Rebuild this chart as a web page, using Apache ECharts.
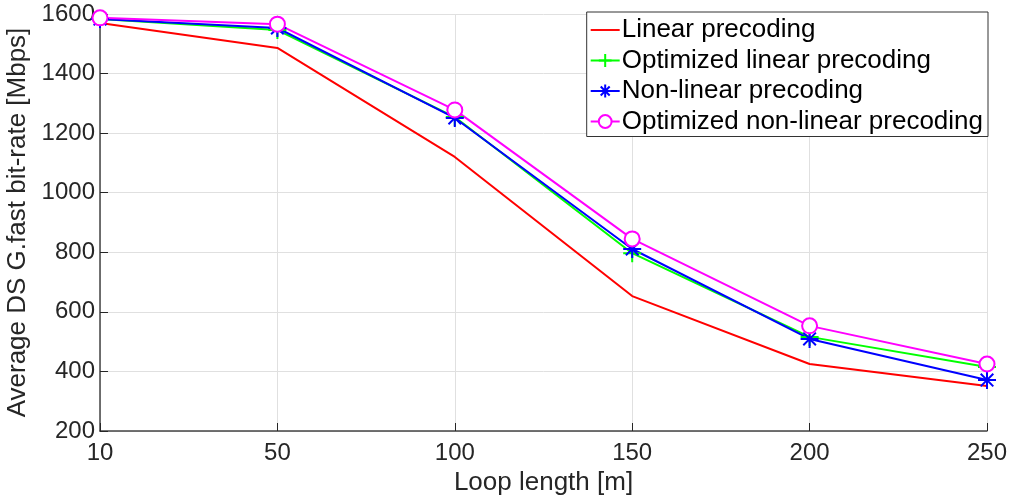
<!DOCTYPE html>
<html>
<head>
<meta charset="utf-8">
<script src="https://cdn.jsdelivr.net/npm/echarts@6/dist/echarts.min.js"></script>
<style>html,body{margin:0;padding:0;background:#fff}#c{width:1010px;height:497px}</style>
</head>
<body>
<div id="c"></div>
<script>
const categories = ['10', '50', '100', '150', '200', '250'];
const linearPrecoding = [1570, 1486, 1120, 653, 425, 351];
const optimizedLinear = [1583, 1546, 1254, 797, 516, 415];
const nonLinear = [1583, 1553, 1251, 811, 509, 371];
const optimizedNonLinear = [1587, 1566, 1278, 845, 553, 425];
const yTicks = [200, 400, 600, 800, 1000, 1200, 1400, 1600];
const seriesNames = ['Linear precoding', 'Optimized linear precoding', 'Non-linear precoding', 'Optimized non-linear precoding'];

const font = 'Liberation Sans, Arial, sans-serif';
const chart = echarts.init(document.getElementById('c'), null, {renderer: 'canvas'});
const plus = 'path://M0,-10L0,10M-10,0L10,0';
const star = 'path://M0,-10L0,10M-10,0L10,0M-7,-7L7,7M-7,7L7,-7';
function mk(name, data, color, symbol, size) {
  const s = {
    name: name, type: 'line', data: data,
    lineStyle: {color: color, width: 2},
    itemStyle: {color: color, borderColor: color, borderWidth: 2},
    symbol: symbol || 'none', symbolSize: size || 0, showSymbol: !!symbol,
    animation: false
  };
  if (symbol && symbol !== 'emptyCircle') s.itemStyle.color = 'none';
  return s;
}
chart.setOption({
  backgroundColor: '#fff',
  animation: false,
  grid: {left: 100, right: 23, top: 14, bottom: 66, containLabel: false, outerBoundsMode: 'none'},
  legend: {
    orient: 'vertical', right: 22, top: 12,
    data: [
      {name: seriesNames[0], icon: 'path://M0,9L30,9L30,11L0,11Z', itemStyle: {color: '#ff0000', borderWidth: 0}},
      {name: seriesNames[1]},
      {name: seriesNames[2]},
      {name: seriesNames[3]}
    ],
    backgroundColor: '#fff', borderColor: '#333', borderWidth: 1, borderRadius: 0,
    padding: [5, 5, 2, 3], itemGap: 4.5, itemWidth: 29, itemHeight: 16,
    textStyle: {fontFamily: font, fontSize: 26, lineHeight: 26, color: '#000', padding: [0, 0, 0, -3]}
  },
  xAxis: {
    type: 'category', data: categories, boundaryGap: false,
    name: 'Loop length [m]', nameLocation: 'middle', nameGap: 34,
    nameTextStyle: {fontFamily: font, fontSize: 26, color: '#262626'},
    axisLine: {lineStyle: {color: '#444', width: 1.5}},
    axisTick: {inside: true, length: 8, lineStyle: {color: '#262626'}},
    axisLabel: {fontFamily: font, fontSize: 24, color: '#262626', margin: 10},
    splitLine: {show: true, lineStyle: {color: '#e0e0e0', width: 1}}
  },
  yAxis: {
    type: 'value', min: 200, max: 1600, interval: 200,
    name: 'Average DS G.fast bit-rate [Mbps]', nameLocation: 'middle', nameGap: 56,
    nameTextStyle: {fontFamily: font, fontSize: 26, color: '#262626'},
    axisLine: {show: true, lineStyle: {color: '#444', width: 1.5}},
    axisTick: {show: true, inside: true, length: 8, lineStyle: {color: '#262626'}},
    axisLabel: {fontFamily: font, fontSize: 24, color: '#262626', margin: 5,
      formatter: v => yTicks.includes(v) ? String(v) : ''},
    splitLine: {show: true, lineStyle: {color: '#e0e0e0', width: 1}}
  },
  series: [
    mk(seriesNames[0], linearPrecoding, '#ff0000'),
    mk(seriesNames[1], optimizedLinear, '#00ff00', plus, 18),
    mk(seriesNames[2], nonLinear, '#0000ff', star, 18),
    mk(seriesNames[3], optimizedNonLinear, '#ff00ff', 'emptyCircle', 15)
  ]
});
</script>
</body>
</html>
